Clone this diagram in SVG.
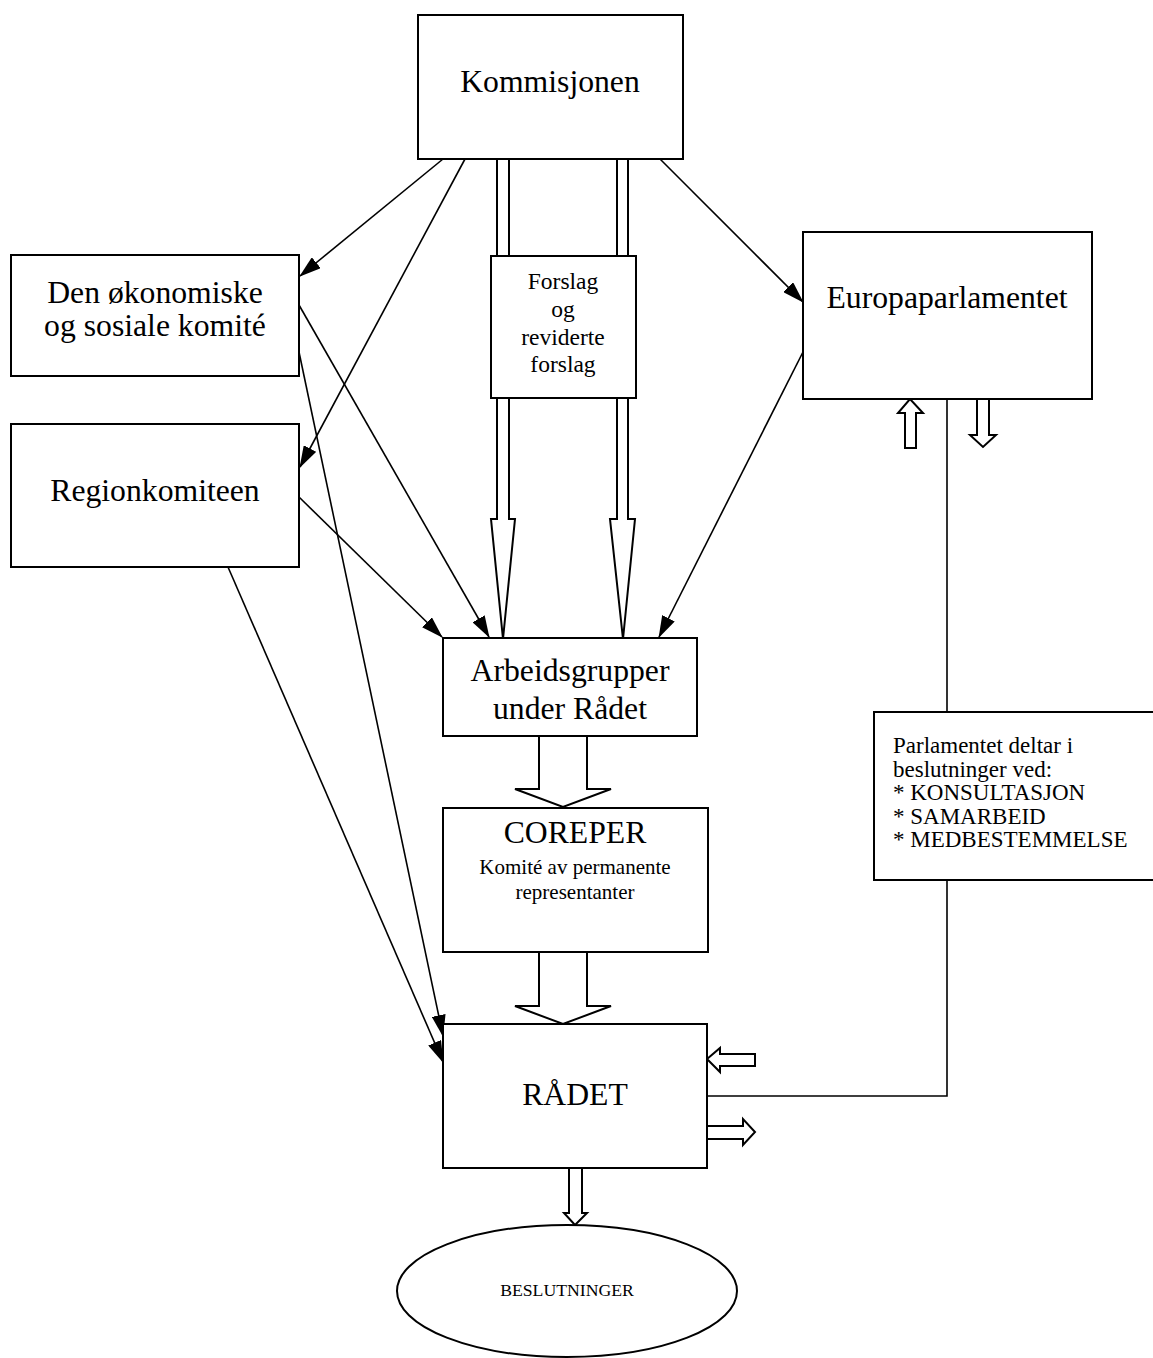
<svg xmlns="http://www.w3.org/2000/svg" width="1153" height="1358" viewBox="0 0 1153 1358">
<style>
.box{fill:#fff;stroke:#000;stroke-width:2}
.big{font-family:"Liberation Serif","Times New Roman",serif;font-size:31.7px;fill:#000;text-anchor:middle}
.mid{font-family:"Liberation Serif","Times New Roman",serif;font-size:23.5px;fill:#000;text-anchor:middle}
.par{font-family:"Liberation Serif","Times New Roman",serif;font-size:23px;fill:#000}
.sub{font-family:"Liberation Serif","Times New Roman",serif;font-size:21px;fill:#000;text-anchor:middle}
.small{font-family:"Liberation Serif","Times New Roman",serif;font-size:17.7px;fill:#000;text-anchor:middle}
.ln{fill:none;stroke:#000;stroke-width:1.6}
.ar{fill:none;stroke:#000;stroke-width:1.6;marker-end:url(#ah)}
.hol{fill:#fff;stroke:#000;stroke-width:2;stroke-linejoin:miter}
</style>
<defs>
<marker id="ah" markerUnits="userSpaceOnUse" markerWidth="22" markerHeight="14" refX="21" refY="7" orient="auto">
<path d="M0,0 L22,7 L0,14 z" fill="#000"/>
</marker>
</defs>
<rect width="1153" height="1358" fill="#fff"/>

<g id="connectors">
<line class="ar" x1="443" y1="159" x2="300" y2="276"/>
<line class="ar" x1="465" y1="159" x2="300" y2="467"/>
<line class="ar" x1="660" y1="159" x2="803" y2="302"/>
<line class="ar" x1="299" y1="305" x2="489" y2="637"/>
<line class="ar" x1="299" y1="352" x2="443" y2="1036"/>
<line class="ar" x1="299" y1="497" x2="442" y2="637"/>
<line class="ar" x1="228" y1="567" x2="443" y2="1062"/>
<line class="ar" x1="803" y1="352" x2="659" y2="637"/>
<path class="hol" d="M497,159 V256 M509,159 V256 M617,159 V256 M628,159 V256"/>
<path class="hol" d="M497,398 V519 H491 L503,639 L515,519 H509 V398"/>
<path class="hol" d="M617,398 V519 H610 L623,639 L635,519 H628 V398"/>
<path class="hol" d="M539,736 V789 H515 L563,807 L611,789 H587 V736"/>
<path class="hol" d="M539,952 V1006 H515 L563,1024 L611,1006 H587 V952"/>
<path class="hol" d="M569,1168 V1213 H564 L575,1225 L587,1213 H582 V1168"/>
<path class="hol" d="M905,448 V413 H898 L910,399 L923,413 H916 V448 Z"/>
<path class="hol" d="M977,399 V435 H970 L983,447 L996,435 H989 V399 Z"/>
<path class="hol" d="M755,1054 H720 V1048 L707,1059 L720,1072 V1066 H755 Z"/>
<path class="hol" d="M707,1126 H743 V1119 L755,1132 L743,1145 V1139 H707 Z"/>
<path class="ln" d="M947,399 V712 M947,880 V1096 H707"/>
</g>

<g id="kommisjonen">
<rect class="box" x="418" y="15" width="265" height="144"/>
<text class="big" x="550" y="92">Kommisjonen</text>
</g>
<g id="forslag">
<rect class="box" x="491" y="256" width="145" height="142"/>
<text class="mid" x="563" y="289">Forslag</text>
<text class="mid" x="563" y="317">og</text>
<text class="mid" x="563" y="345">reviderte</text>
<text class="mid" x="563" y="372">forslag</text>
</g>
<g id="esk">
<rect class="box" x="11" y="255" width="288" height="121"/>
<text class="big" x="155" y="303">Den økonomiske</text>
<text class="big" x="155" y="336">og sosiale komité</text>
</g>
<g id="regionkomiteen">
<rect class="box" x="11" y="424" width="288" height="143"/>
<text class="big" x="155" y="501">Regionkomiteen</text>
</g>
<g id="europaparlamentet">
<rect class="box" x="803" y="232" width="289" height="167"/>
<text class="big" x="947" y="308">Europaparlamentet</text>
</g>
<g id="arbeidsgrupper">
<rect class="box" x="443" y="638" width="254" height="98"/>
<text class="big" x="570" y="681">Arbeidsgrupper</text>
<text class="big" x="570" y="719">under Rådet</text>
</g>
<g id="coreper">
<rect class="box" x="443" y="808" width="265" height="144"/>
<text class="big" x="575" y="843">COREPER</text>
<text class="sub" x="575" y="874">Komité av permanente</text>
<text class="sub" x="575" y="899">representanter</text>
</g>
<g id="radet">
<rect class="box" x="443" y="1024" width="264" height="144"/>
<text class="big" x="575" y="1105">RÅDET</text>
</g>
<g id="parlament-info">
<rect class="box" x="874" y="712" width="290" height="168"/>
<text class="par" x="893" y="753">Parlamentet deltar i</text>
<text class="par" x="893" y="777">beslutninger ved:</text>
<text class="par" x="893" y="800">* KONSULTASJON</text>
<text class="par" x="893" y="824">* SAMARBEID</text>
<text class="par" x="893" y="847">* MEDBESTEMMELSE</text>
</g>
<g id="beslutninger">
<ellipse class="box" cx="567" cy="1291" rx="170" ry="66"/>
<text class="small" x="567" y="1296">BESLUTNINGER</text>
</g>
</svg>
